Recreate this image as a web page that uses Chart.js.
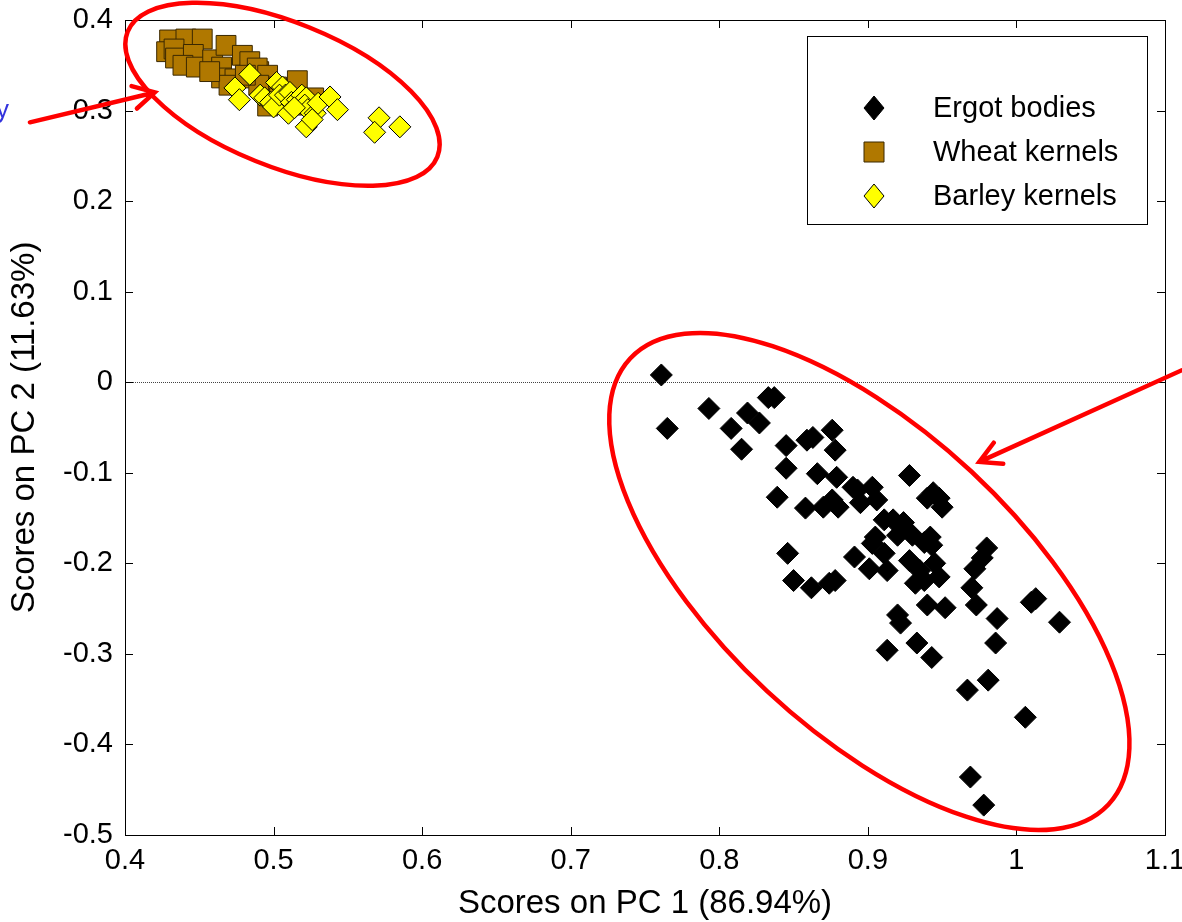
<!DOCTYPE html>
<html>
<head>
<meta charset="utf-8">
<script src="https://cdn.jsdelivr.net/npm/chart.js@4.4.0/dist/chart.umd.min.js"></script>
<style>
  body { margin: 0; background: #fff; }
  #wrap { width: 1182px; height: 922px; }
</style>
</head>
<body>
<div id="wrap"><canvas id="scoresChart" width="1182" height="922"></canvas></div>
<script>
// PCA scores
const seriesNames = ['Ergot bodies', 'Wheat kernels', 'Barley kernels']

const ergotX = [0.761,0.765,0.793,0.808,0.819,0.827,0.815,0.833,0.837,0.845,
    0.859,0.863,0.876,0.878,0.845,0.866,0.879,0.928,0.839,0.858,
    0.870,0.876,0.880,0.890,0.893,0.903,0.895,0.906,0.911,0.917,
    0.944,0.948,0.940,0.950,0.905,0.920,0.930,0.942,0.846,0.850,
    0.862,0.874,0.878,0.891,0.903,0.901,0.913,0.911,0.938,0.943,
    0.928,0.935,0.945,0.948,0.932,0.938,0.940,0.952,0.920,0.922,
    0.913,0.933,0.943,0.980,0.977,0.972,0.970,0.973,0.987,0.986,
    1.010,1.029,0.981,0.967,1.006,0.969,0.978,0.924,1.013]
const ergotY = [0.008,-0.051,-0.029,-0.051,-0.034,-0.045,-0.074,-0.017,-0.017,-0.070,
    -0.064,-0.061,-0.053,-0.075,-0.095,-0.101,-0.105,-0.103,-0.127,-0.139,
    -0.138,-0.130,-0.138,-0.116,-0.119,-0.116,-0.133,-0.130,-0.152,-0.152,
    -0.122,-0.128,-0.128,-0.138,-0.171,-0.169,-0.169,-0.171,-0.189,-0.219,
    -0.227,-0.222,-0.219,-0.193,-0.178,-0.206,-0.208,-0.189,-0.177,-0.180,
    -0.197,-0.208,-0.200,-0.215,-0.222,-0.219,-0.246,-0.249,-0.257,-0.266,
    -0.296,-0.288,-0.304,-0.183,-0.194,-0.206,-0.227,-0.246,-0.261,-0.288,
    -0.243,-0.265,-0.329,-0.340,-0.370,-0.436,-0.467,-0.155,-0.239]

const wheatX = [0.430,0.441,0.452,0.428,0.433,0.434,0.446,0.439,0.448,0.459,
    0.468,0.479,0.465,0.465,0.474,0.470,0.485,0.490,0.484,0.489,
    0.496,0.502,0.490,0.511,0.516,0.527,0.506,0.496,0.504,0.518,
    0.481,0.457]
const wheatY = [0.378,0.379,0.379,0.365,0.368,0.358,0.362,0.350,0.348,0.356,
    0.372,0.361,0.348,0.336,0.335,0.328,0.336,0.343,0.354,0.347,
    0.339,0.326,0.328,0.323,0.333,0.314,0.308,0.305,0.314,0.306,
    0.339,0.343]

const barleyX = [0.484,0.474,0.477,0.491,0.494,0.498,0.500,0.502,0.506,0.504,
    0.508,0.511,0.512,0.510,0.516,0.519,0.522,0.521,0.523,0.528,
    0.522,0.530,0.538,0.543,0.571,0.568,0.585,0.514,0.526]
const barleyY = [0.340,0.325,0.312,0.317,0.314,0.309,0.304,0.331,0.326,0.317,
    0.317,0.320,0.309,0.297,0.312,0.317,0.314,0.306,0.301,0.297,
    0.282,0.308,0.315,0.301,0.292,0.276,0.282,0.303,0.290]

const xTicks = [0.4, 0.5, 0.6, 0.7, 0.8, 0.9, 1.0, 1.1]
const yTicks = [-0.5, -0.4, -0.3, -0.2, -0.1, 0, 0.1, 0.2, 0.3, 0.4]

const FONT = 'Arial, "Liberation Sans", sans-serif'

function toPoints(xs, ys) {
    return xs.map((v, i) => ({ x: v, y: ys[i] }))
}
function fmt(v) {
    return String(parseFloat(v.toFixed(1)))
}

// box, inward ticks and the dotted zero line
const axesBox = {
    id: 'axesBox',
    beforeDatasetsDraw(chart) {
        const { ctx, chartArea: a, scales: { x, y } } = chart
        ctx.save()
        ctx.lineWidth = 1
        const y0 = Math.round(y.getPixelForValue(0)) + 0.5
        ctx.strokeStyle = '#444'
        ctx.setLineDash([1, 1])
        ctx.beginPath()
        ctx.moveTo(a.left, y0)
        ctx.lineTo(a.right, y0)
        ctx.stroke()
        ctx.setLineDash([])

        ctx.strokeStyle = '#000'
        ctx.strokeRect(a.left + 0.5, a.top + 0.5, a.right - a.left, a.bottom - a.top)
        ctx.beginPath()
        x.ticks.forEach(t => {
            const px = Math.round(x.getPixelForValue(t.value)) + 0.5
            ctx.moveTo(px, a.bottom); ctx.lineTo(px, a.bottom - 8)
            ctx.moveTo(px, a.top); ctx.lineTo(px, a.top + 8)
        })
        y.ticks.forEach(t => {
            const py = Math.round(y.getPixelForValue(t.value)) + 0.5
            ctx.moveTo(a.left, py); ctx.lineTo(a.left + 8, py)
            ctx.moveTo(a.right, py); ctx.lineTo(a.right - 8, py)
        })
        ctx.stroke()
        ctx.restore()
    }
}

// legend box + red annotation ellipses/arrows
const groupRings = [
    { cx: 0.506, cy: 0.318, rx: 167, ry: 72, rot: 22 },
    { cx: 0.901, cy: -0.220, rx: 327, ry: 150, rot: 43 }
]
const groupArrows = [
    { x1: 0.336, y1: 0.287, x2: 0.420, y2: 0.320 },
    { x1: 1.111, y1: 0.013, x2: 0.975, y2: -0.088 }
]

function marker(ctx, style, cx, cy, fill, stroke) {
    ctx.fillStyle = fill
    ctx.strokeStyle = stroke
    ctx.lineWidth = 1
    ctx.beginPath()
    if (style === 'rect') {
        ctx.rect(cx - 10, cy - 10, 20, 20)
    } else {
        ctx.moveTo(cx, cy - 12); ctx.lineTo(cx + 10, cy)
        ctx.lineTo(cx, cy + 12); ctx.lineTo(cx - 10, cy)
        ctx.closePath()
    }
    ctx.fill()
    ctx.stroke()
}

const overlay = {
    id: 'overlay',
    afterDraw(chart) {
        const { ctx, chartArea: a, scales: { x, y } } = chart
        ctx.save()

        // legend
        const lx = a.right - 358, ly = a.top + 16, lw = 340, lh = 188
        ctx.fillStyle = '#fff'
        ctx.fillRect(lx, ly, lw, lh)
        ctx.strokeStyle = '#000'
        ctx.lineWidth = 1
        ctx.strokeRect(lx + 0.5, ly + 0.5, lw, lh)
        chart.data.datasets.forEach((ds, i) => {
            const my = ly + 72 + i * 44
            marker(ctx, ds.pointStyle, lx + 67, my, ds.backgroundColor, ds.borderColor)
            ctx.fillStyle = '#000'
            ctx.font = '29px ' + FONT
            ctx.textAlign = 'left'
            ctx.textBaseline = 'middle'
            ctx.fillText(ds.label, lx + 126, my + 1)
        })

        // red rings
        ctx.strokeStyle = '#FF0000'
        ctx.lineWidth = 4.5
        groupRings.forEach(r => {
            ctx.beginPath()
            ctx.ellipse(x.getPixelForValue(r.cx), y.getPixelForValue(r.cy), r.rx, r.ry,
                r.rot * Math.PI / 180, 0, Math.PI * 2)
            ctx.stroke()
        })
        ctx.lineCap = 'round'
        groupArrows.forEach(ar => {
            const x1 = x.getPixelForValue(ar.x1), y1 = y.getPixelForValue(ar.y1)
            const x2 = x.getPixelForValue(ar.x2), y2 = y.getPixelForValue(ar.y2)
            const ang = Math.atan2(y2 - y1, x2 - x1)
            ctx.beginPath()
            ctx.moveTo(x1, y1); ctx.lineTo(x2, y2)
            ctx.moveTo(x2 - 24 * Math.cos(ang - 0.5), y2 - 24 * Math.sin(ang - 0.5))
            ctx.lineTo(x2, y2)
            ctx.lineTo(x2 - 24 * Math.cos(ang + 0.5), y2 - 24 * Math.sin(ang + 0.5))
            ctx.stroke()
        })

        // cut-off caption at the left edge
        ctx.fillStyle = '#3333DD'
        ctx.font = '26px ' + FONT
        ctx.textAlign = 'right'
        ctx.textBaseline = 'alphabetic'
        ctx.fillText('y', 9, 118)
        ctx.restore()
    }
}

const ctx = document.getElementById('scoresChart').getContext('2d')
const scoresChart = new Chart(ctx, {
    type: 'scatter',
    data: {
        datasets: [
            {
                label: seriesNames[0],
                data: toPoints(ergotX, ergotY),
                pointStyle: 'rectRot',
                pointRadius: 11,
                backgroundColor: '#000000',
                borderColor: '#000000',
                borderWidth: 1,
                order: 3
            },
            {
                label: seriesNames[1],
                data: toPoints(wheatX, wheatY),
                pointStyle: 'rect',
                pointRadius: 14,
                backgroundColor: '#B07800',
                borderColor: '#3a2800',
                borderWidth: 1,
                order: 2
            },
            {
                label: seriesNames[2],
                data: toPoints(barleyX, barleyY),
                pointStyle: 'rectRot',
                pointRadius: 11,
                backgroundColor: '#FFFF00',
                borderColor: '#000000',
                borderWidth: 1,
                order: 1
            }
        ]
    },
    options: {
        responsive: false,
        animation: false,
        events: [],
        layout: { padding: { top: 20, right: 17, bottom: 0, left: 0 } },
        plugins: {
            legend: { display: false },
            tooltip: { enabled: false }
        },
        scales: {
            x: {
                type: 'linear',
                min: 0.4,
                max: 1.1,
                afterBuildTicks: s => { s.ticks = xTicks.map(v => ({ value: v })) },
                afterFit: s => {
                    s.height = 87
                    s.paddingLeft = s.paddingRight = 0
                },
                grid: { display: false, drawTicks: false },
                border: { display: false },
                ticks: {
                    color: '#000',
                    font: { family: FONT, size: 29 },
                    padding: 9,
                    maxRotation: 0,
                    callback: v => fmt(v)
                },
                title: {
                    display: true,
                    text: 'Scores on PC 1 (86.94%)',
                    color: '#000',
                    font: { family: FONT, size: 33 },
                    padding: { top: 0, bottom: -2 }
                }
            },
            y: {
                type: 'linear',
                min: -0.5,
                max: 0.4,
                afterBuildTicks: s => { s.ticks = yTicks.map(v => ({ value: v })) },
                afterFit: s => {
                    s.width = 125
                    s.paddingTop = s.paddingBottom = 0
                },
                grid: { display: false, drawTicks: false },
                border: { display: false },
                ticks: {
                    color: '#000',
                    font: { family: FONT, size: 29 },
                    padding: 12,
                    callback: v => fmt(v)
                },
                title: {
                    display: true,
                    text: 'Scores on PC 2 (11.63%)',
                    color: '#000',
                    font: { family: FONT, size: 33 },
                    padding: { top: 5, bottom: 0 }
                }
            }
        }
    },
    plugins: [axesBox, overlay]
})
</script>
</body>
</html>
